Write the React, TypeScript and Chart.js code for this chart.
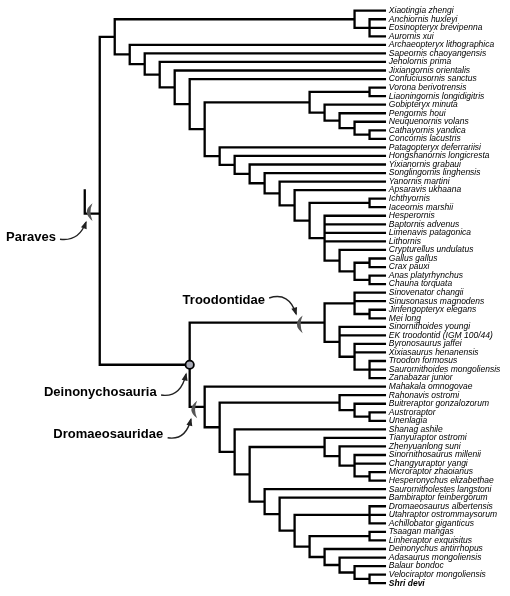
import React, { useEffect, useRef } from "react";
import { Chart, registerables } from "chart.js";

Chart.register(...registerables);

// ---------- data ----------
const TAXA: string[] = [
  "Xiaotingia zhengi", "Anchiornis huxleyi", "Eosinopteryx brevipenna", "Aurornis xui",
  "Archaeopteryx lithographica", "Sapeornis chaoyangensis", "Jeholornis prima", "Jixiangornis orientalis",
  "Confuciusornis sanctus", "Vorona berivotrensis", "Liaoningornis longidigitris", "Gobipteryx minuta",
  "Pengornis houi", "Neuquenornis volans", "Cathayornis yandica", "Concornis lacustris",
  "Patagopteryx deferrariisi", "Hongshanornis longicresta", "Yixianornis grabaui", "Songlingornis linghensis",
  "Yanornis martini", "Apsaravis ukhaana", "Ichthyornis", "Iaceornis marshii", "Hesperornis",
  "Baptornis advenus", "Limenavis patagonica", "Lithornis", "Crypturellus undulatus", "Gallus gallus",
  "Crax pauxi", "Anas platyrhynchus", "Chauna torquata",
  "Sinovenator changii", "Sinusonasus magnodens", "Jinfengopteryx elegans", "Mei long",
  "Sinornithoides youngi", "EK troodontid (IGM 100/44)", "Byronosaurus jaffei", "Xixiasaurus henanensis",
  "Troodon formosus", "Saurornithoides mongoliensis", "Zanabazar junior",
  "Mahakala omnogovae", "Rahonavis ostromi", "Buitreraptor gonzalozorum", "Austroraptor", "Unenlagia",
  "Shanag ashile", "Tianyuraptor ostromi", "Zhenyuanlong suni", "Sinornithosaurus millenii",
  "Changyuraptor yangi", "Microraptor zhaoianus", "Hesperonychus elizabethae", "Saurornitholestes langstoni",
  "Bambiraptor feinbergorum", "Dromaeosaurus albertensis", "Utahraptor ostrommaysorum", "Achillobator giganticus",
  "Tsaagan mangas", "Linheraptor exquisitus", "Deinonychus antirrhopus", "Adasaurus mongoliensis",
  "Balaur bondoc", "Velociraptor mongoliensis", "Shri devi",
];
const BOLD_TAXA: number[] = [67];

// Topology (Newick-like): leaves are TAXA indices, the number after ")" is the node's column rank
const ANCHIORNITHIDAE = "(0,(1,2,3)18)17";
const ENANTIORNITHES = "((9,10)18,(11,(12,(13,(14,15)18)17)16)15)14";
const NEORNITHES = "(24,25,26,27,(28,((29,30)18,(31,32)18)17)16)15";
const ORNITHUROMORPHA = `(16,(17,(18,(19,(20,(21,((22,23)18,${NEORNITHES})14)13)12)11)10)9)8`;
const AVIALAE = `(4,(5,(6,(7,(8,(${ENANTIORNITHES},${ORNITHUROMORPHA})7)6)5)4)3)2`;
const TROODONTIDAE = "((33,34,(35,36)18)17,(37,38,(39,40,(41,42,43)18)17)16)15";
const UNENLAGIINAE = "(45,(46,(47,48)18)17)16";
const MICRORAPTORINAE = "(50,(51,(52,53,(54,55)18)17)16)15";
const EUDROMAEOSAURIA = "(56,(57,((58,59,60)18,((61,62)18,(63,(64,(65,(66,67)18)17)16)15)14)13)12)11";
const DROMAEOSAURIDAE = `(44,(${UNENLAGIINAE},(49,(${MICRORAPTORINAE},${EUDROMAEOSAURIA})10)9)8)7`;
const PARAVES = `((${ANCHIORNITHIDAE},${AVIALAE})1,(${TROODONTIDAE},${DROMAEOSAURIDAE})6)0`;

const TIP_COL = 19.1;
const ROOT_STEM_COL = -1;
const ROOT_STEM_TOP = 20.9;
const ROOT_STEM_ROW = 23.75;

const CLADE_NAMES = ["Paraves", "Troodontidae", "Deinonychosauria", "Dromaeosauridae"];
const CLADE_FIRST = [0, 33, 33, 44];
const CLADE_LAST = [67, 43, 67, 67];
const CLADE_MARK = ["bracket", "bracket", "node", "bracket"];
const CLADE_MARK_BACK = [0.65, 1.63, 0, 0.67];

// axis windows (column units / row units)
const X_MIN = -6.254, X_MAX = 26.97;
const Y_MIN = -0.55, Y_MAX = 67.8;

// ---------- styling / annotation layout (pixels, relative to marker) ----------
const STYLE = {
  line: "#000",
  lineWidth: 2.3,
  labelFont: "8.5px 'Liberation Sans', Arial, sans-serif",
  labelGap: 2.8,
  cladeFont: "bold 13px 'Liberation Sans', Arial, sans-serif",
  bracket: "#555555",
  arrow: "#222",
  nodeFill: "#a8aab6",
};
const CLADE_LAYOUT = [
  { markDy: -1.5, text: [-34, 23.6], start: [-30, 25.6], ctrl: [-11, 28], end: [-4, 8.5] },
  { markDy: 1.8, text: [-35.2, -22.4], start: [-31, -24.6], ctrl: [-11, -31], end: [-4, -8.5] },
  { markDy: 0, text: [-33, 27.8], start: [-28.6, 30.3], ctrl: [-9, 33], end: [-3.6, 9.3] },
  { markDy: 2.5, text: [-31.5, 27.5], start: [-27, 30.8], ctrl: [-9, 33.8], end: [-3.7, 12.3] },
];

type TNode = { col: number; kids: TNode[]; leaf: number; x: number; y: number; first: number; last: number };

function parseTree(s: string): TNode {
  let p = 0;
  const num = () => {
    const st = p;
    while (p < s.length && /[0-9.]/.test(s[p])) p++;
    return parseFloat(s.slice(st, p));
  };
  const node = (): TNode => {
    if (s[p] === "(") {
      p++;
      const kids = [node()];
      while (s[p] === ",") { p++; kids.push(node()); }
      p++;
      const col = num();
      return { col, kids, leaf: -1, x: 0, y: 0, first: 0, last: 0 };
    }
    const leaf = num();
    return { col: TIP_COL, kids: [], leaf, x: 0, y: 0, first: leaf, last: leaf };
  };
  return node();
}

function layout(n: TNode) {
  if (!n.kids.length) { n.x = TIP_COL; n.y = n.leaf; return; }
  n.kids.forEach(layout);
  const a = n.kids[0], b = n.kids[n.kids.length - 1];
  n.x = n.col;
  n.y = (a.y + b.y) / 2;
  n.first = a.first;
  n.last = b.last;
}

const GAP = { x: NaN, y: NaN };

function collect(n: TNode, out: any[], all: TNode[]) {
  all.push(n);
  if (!n.kids.length) return;
  const a = n.kids[0], b = n.kids[n.kids.length - 1];
  out.push({ x: a.x, y: a.y }, { x: n.x, y: a.y }, { x: n.x, y: b.y }, { x: b.x, y: b.y }, GAP);
  for (let i = 1; i < n.kids.length - 1; i++) {
    const k = n.kids[i];
    out.push({ x: n.x, y: k.y }, { x: k.x, y: k.y }, GAP);
  }
  n.kids.forEach((k) => collect(k, out, all));
}

export default function App() {
  const ref = useRef<HTMLCanvasElement>(null);
  useEffect(() => {
    document.body.style.margin = "0";
    const canvas = ref.current!;
    const root = parseTree(PARAVES);
    layout(root);
    const pts: any[] = [
      { x: ROOT_STEM_COL, y: ROOT_STEM_TOP },
      { x: ROOT_STEM_COL, y: ROOT_STEM_ROW },
      { x: root.x, y: ROOT_STEM_ROW },
      GAP,
    ];
    const all: TNode[] = [];
    collect(root, pts, all);

    const marks = CLADE_NAMES.map((name, k) => {
      const n = all.find((m) => m.kids.length && m.first === CLADE_FIRST[k] && m.last === CLADE_LAST[k])!;
      const stemRow = n === root ? ROOT_STEM_ROW : n.y;
      return CLADE_MARK[k] === "node"
        ? { name, type: "node", col: n.x, row: n.y }
        : { name, type: "bracket", col: n.x - CLADE_MARK_BACK[k], row: stemRow };
    });
    const nodePts = marks.filter((m) => m.type === "node").map((m) => ({ x: m.col, y: m.row }));

    const annot = {
      id: "treeAnnotations",
      afterDatasetsDraw(chart: any) {
        const { ctx } = chart;
        const xs = chart.scales.x, ys = chart.scales.y;
        ctx.save();
        ctx.textBaseline = "middle";
        ctx.textAlign = "left";
        ctx.fillStyle = "#000";
        const lx = xs.getPixelForValue(TIP_COL) + STYLE.labelGap;
        TAXA.forEach((name, i) => {
          ctx.font = (BOLD_TAXA.includes(i) ? "italic bold " : "italic ") + STYLE.labelFont;
          ctx.fillText(name, lx, ys.getPixelForValue(i));
        });
        marks.forEach((m, k) => {
          const L = CLADE_LAYOUT[k];
          const mx = xs.getPixelForValue(m.col);
          const my = ys.getPixelForValue(m.row);
          if (m.type === "bracket") {
            const cy = my + L.markDy;
            const h = 8.8;
            ctx.beginPath();
            ctx.moveTo(mx + 2.5, cy - h);
            ctx.quadraticCurveTo(mx - 9, cy, mx + 2.5, cy + h);
            ctx.quadraticCurveTo(mx - 1.5, cy, mx + 2.5, cy - h);
            ctx.closePath();
            ctx.fillStyle = STYLE.bracket;
            ctx.fill();
          }
          // label
          ctx.font = STYLE.cladeFont;
          ctx.textAlign = "right";
          ctx.fillStyle = "#000";
          ctx.fillText(m.name, mx + L.text[0], my + L.text[1]);
          // arrow
          const sx = mx + L.start[0], sy = my + L.start[1];
          const cx = mx + L.ctrl[0], cy2 = my + L.ctrl[1];
          const ex = mx + L.end[0], ey = my + L.end[1];
          ctx.strokeStyle = STYLE.arrow;
          ctx.lineWidth = 1.4;
          ctx.beginPath();
          ctx.moveTo(sx, sy);
          ctx.quadraticCurveTo(cx, cy2, ex, ey);
          ctx.stroke();
          let dx = ex - cx, dy = ey - cy2;
          const len = Math.hypot(dx, dy) || 1;
          dx /= len; dy /= len;
          const al = 6.5, aw = 3;
          ctx.beginPath();
          ctx.moveTo(ex + dx * 1.5, ey + dy * 1.5);
          ctx.lineTo(ex - dx * al - dy * aw, ey - dy * al + dx * aw);
          ctx.lineTo(ex - dx * al + dy * aw, ey - dy * al - dx * aw);
          ctx.closePath();
          ctx.fillStyle = STYLE.arrow;
          ctx.fill();
        });
        ctx.restore();
      },
    };

    const chart = new Chart(canvas, {
      type: "scatter",
      data: {
        datasets: [
          {
            data: nodePts,
            showLine: false,
            pointRadius: 4.2,
            pointBackgroundColor: STYLE.nodeFill,
            pointBorderColor: "#000",
            pointBorderWidth: 1.8,
          } as any,
          {
            data: pts,
            showLine: true,
            spanGaps: false,
            borderColor: STYLE.line,
            borderWidth: STYLE.lineWidth,
            borderJoinStyle: "miter",
            borderCapStyle: "butt",
            pointRadius: 0,
            tension: 0,
            fill: false,
          } as any,
        ],
      },
      options: {
        animation: false,
        responsive: false,
        maintainAspectRatio: false,
        events: [],
        layout: { padding: 0 },
        plugins: { legend: { display: false }, tooltip: { enabled: false } },
        scales: {
          x: { type: "linear", display: false, min: X_MIN, max: X_MAX },
          y: { type: "linear", display: false, reverse: true, min: Y_MIN, max: Y_MAX },
        },
      },
      plugins: [annot],
    });
    return () => chart.destroy();
  }, []);
  return (
    <div style={{ position: "fixed", left: 0, top: 0, width: 510, height: 596, background: "#fff" }}>
      <canvas ref={ref} width={510} height={596} style={{ display: "block", width: 510, height: 596 }} />
    </div>
  );
}
